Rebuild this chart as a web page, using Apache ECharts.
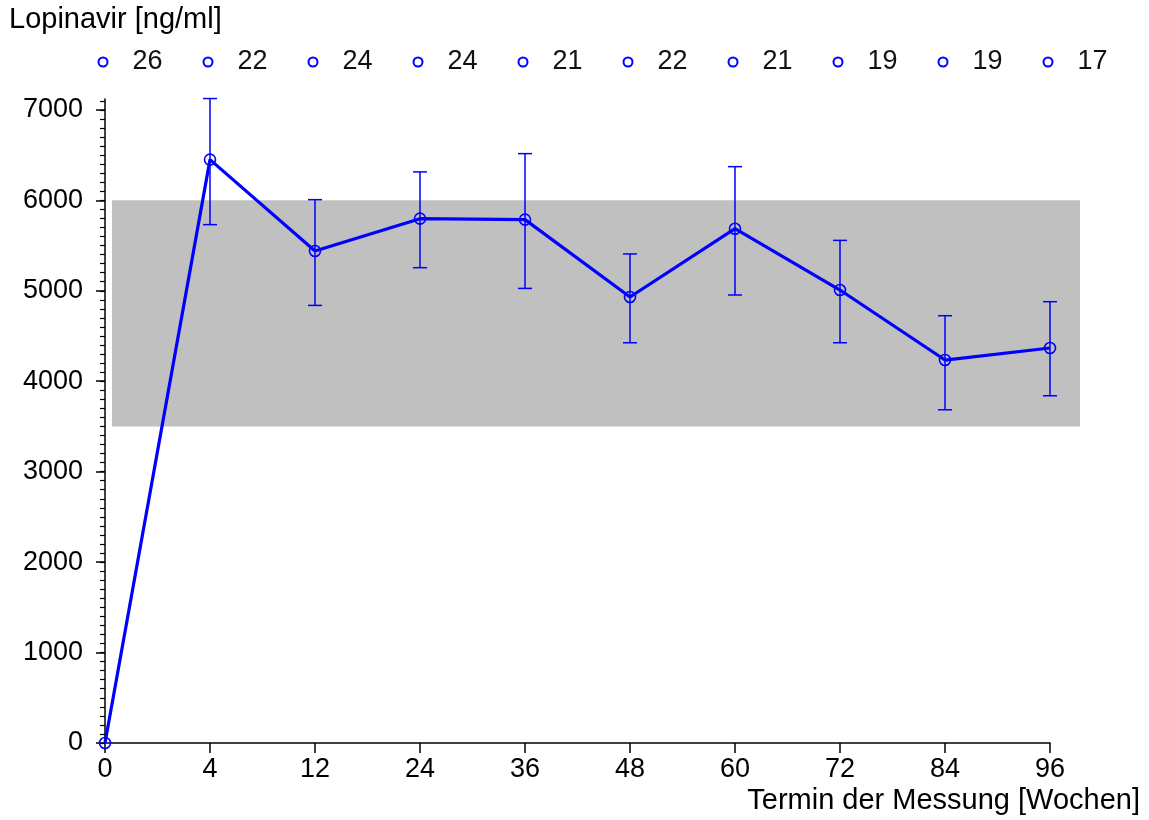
<!DOCTYPE html>
<html>
<head>
<meta charset="utf-8">
<script src="https://cdn.jsdelivr.net/npm/echarts@6/dist/echarts.min.js"></script>
<style>
  html, body { margin: 0; padding: 0; background: #fff; }
  #chart { width: 1149px; height: 820px; }
</style>
</head>
<body>
<div id="chart"></div>
<script>
// Messzeitpunkte (Wochen) und Anzahl Patienten je Termin
const weeks = ['0', '4', '12', '24', '36', '48', '60', '72', '84', '96'];
const counts = [26, 22, 24, 24, 21, 22, 21, 19, 19, 17];

// Mittelwerte und Fehlerbalken (ng/ml)
const means = [0, 6450, 5440, 5797, 5786, 4931, 5686, 5008, 4234, 4367];
const lower = [0, 5731, 4838, 5255, 5026, 4425, 4953, 4425, 3684, 3839];
const upper = [0, 7125, 6007, 6314, 6516, 5407, 6372, 5557, 4724, 4879];

// Referenzbereich
const rangeLow = [3500];
const rangeHigh = [6000];

// Achsenteilung
const majorTicks = [0, 1000, 2000, 3000, 4000, 5000, 6000, 7000];
const minorTicks = [];
for (let v = 0; v <= 7100; v += 100) minorTicks.push(v);

const blue = '#0000ff';
const font = 'Liberation Sans, Arial, sans-serif';
const clear = 'rgba(0,0,0,0)';

const chart = echarts.init(document.getElementById('chart'));

const option = {
    animation: false,
    textStyle: { fontFamily: font },
    title: [
        {
            text: 'Lopinavir [ng/ml]',
            left: 9, top: 5, padding: 0,
            textStyle: { fontSize: 29, fontWeight: 'normal', color: '#000', fontFamily: font }
        },
        {
            text: 'Termin der Messung [Wochen]',
            right: 9, top: 786, padding: 0,
            textStyle: { fontSize: 29, fontWeight: 'normal', color: '#000', fontFamily: font }
        }
    ],
    grid: [
        { left: 105, right: 99, top: 99, bottom: 77 },
        { left: 105, right: 99, top: 52, height: 20 }
    ],
    xAxis: [
        {
            type: 'value', gridIndex: 0, min: 0, max: 9, interval: 1,
            axisLine: { lineStyle: { color: '#000', width: 1.5 } },
            axisTick: { length: 10, lineStyle: { color: '#000', width: 1.5 } },
            axisLabel: {
                fontSize: 27, color: '#000', margin: 13,
                formatter: v => weeks[v]
            },
            splitLine: { show: false }
        },
        { type: 'value', gridIndex: 1, min: 0, max: 9, show: false }
    ],
    yAxis: [
        {
            type: 'value', gridIndex: 0, min: 0, max: 7120, position: 'left',
            axisLine: { show: true, lineStyle: { color: '#000', width: 1.5 } },
            axisTick: { show: true, length: 9, customValues: majorTicks, lineStyle: { color: '#000', width: 1.5 } },
            axisLabel: { fontSize: 27, color: '#000', margin: 22, customValues: majorTicks, formatter: v => String(v) },
            splitLine: { show: false }
        },
        {
            type: 'value', gridIndex: 0, min: 0, max: 7120, position: 'left',
            axisLine: { show: false },
            axisTick: { show: true, length: 5, customValues: minorTicks, lineStyle: { color: '#000', width: 1.2 } },
            axisLabel: { show: false },
            splitLine: { show: false }
        },
        { type: 'value', gridIndex: 1, min: -1, max: 1, show: false }
    ],
    series: [
        {
            // Referenzbereich als graues Band
            type: 'custom',
            xAxisIndex: 0, yAxisIndex: 0,
            clip: false,
            z: 1,
            data: [[0, rangeLow[0], 9, rangeHigh[0]]],
            renderItem: (params, api) => {
                const p1 = api.coord([api.value(0), api.value(3)]);
                const p2 = api.coord([api.value(2), api.value(1)]);
                return {
                    type: 'rect',
                    shape: { x: p1[0] + 7, y: p1[1], width: p2[0] - p1[0] + 23, height: p2[1] - p1[1] },
                    style: { fill: '#c0c0c0' }
                };
            }
        },
        {
            // Fehlerbalken
            type: 'custom',
            xAxisIndex: 0, yAxisIndex: 0,
            clip: false,
            z: 3,
            data: weeks.map((w, i) => [i, lower[i], upper[i]]).filter((d, i) => i > 0),
            renderItem: (params, api) => {
                const lo = api.coord([api.value(0), api.value(1)]);
                const hi = api.coord([api.value(0), api.value(2)]);
                const half = 7;
                const st = { stroke: blue, lineWidth: 1.5 };
                return {
                    type: 'group',
                    children: [
                        { type: 'line', shape: { x1: lo[0], y1: lo[1], x2: hi[0], y2: hi[1] }, style: st },
                        { type: 'line', shape: { x1: lo[0] - half, y1: lo[1], x2: lo[0] + half, y2: lo[1] }, style: st },
                        { type: 'line', shape: { x1: hi[0] - half, y1: hi[1], x2: hi[0] + half, y2: hi[1] }, style: st }
                    ]
                };
            }
        },
        {
            type: 'line',
            xAxisIndex: 0, yAxisIndex: 0,
            clip: false,
            z: 4,
            data: means.map((v, i) => [i, v]),
            symbol: 'circle',
            symbolSize: 11,
            showAllSymbol: true,
            lineStyle: { color: blue, width: 3.2 },
            itemStyle: { color: clear, borderColor: blue, borderWidth: 1.6 }
        },
        {
            // Anzahl Patienten oben
            type: 'scatter',
            xAxisIndex: 1, yAxisIndex: 2,
            data: counts.map((c, i) => [i, 0]),
            symbol: 'circle',
            symbolSize: 9,
            symbolOffset: [-2, 0],
            itemStyle: { color: clear, borderColor: blue, borderWidth: 2, opacity: 1 },
            label: {
                show: true, position: 'right', distance: 24,
                fontSize: 27, color: '#111',
                formatter: p => String(counts[p.dataIndex])
            }
        }
    ]
};

chart.setOption(option);
</script>
</body>
</html>
